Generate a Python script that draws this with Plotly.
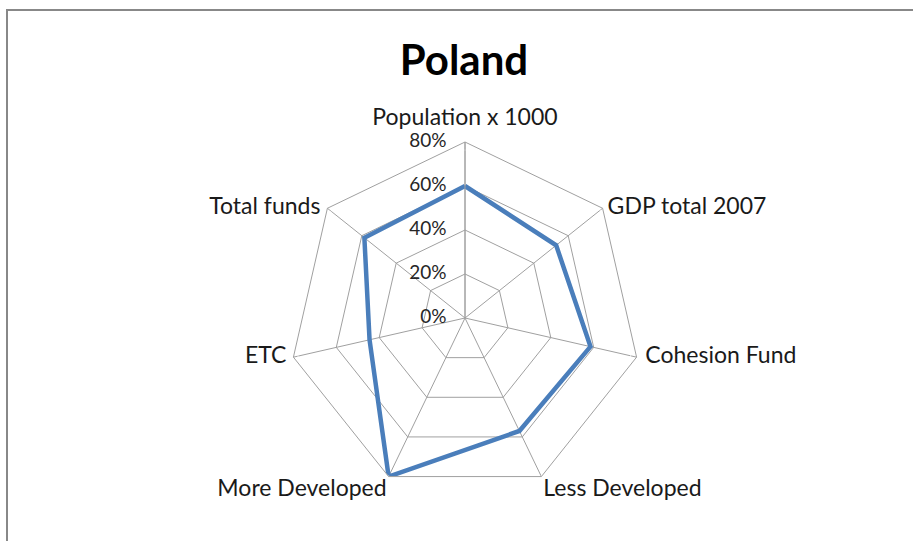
import plotly.graph_objects as go

categories = ["Population x 1000", "GDP total 2007", "Cohesion Fund",
              "Less Developed", "More Developed", "ETC", "Total funds"]
values = [0.60, 0.53, 0.585, 0.57, 0.80, 0.445, 0.585]
radial_ticks = [0, 0.2, 0.4, 0.6, 0.8]
radial_labels = ["0%", "20%", "40%", "60%", "80%"]
title_text = "Poland"

# label placement styles (one per category)
cat_label_pos = ["top center", "middle right", "middle right", "bottom right",
                 "bottom left", "middle left", "middle left"]
cat_label_pad = [16.4, 6.4, 12.4, 1.6, 1.6, 9.6, 9.6]

W, H = 913, 541
cx, cy, R = 465, 318, 176
R_MAX = 0.8

fig = go.Figure()
fig.add_trace(go.Scatterpolar(
    r=values + values[:1],
    theta=categories + categories[:1],
    mode="lines",
    line=dict(color="#4A7EBB", width=4.5),
    showlegend=False,
    hoverinfo="skip",
))
# radial tick labels, placed on the first spoke through the polar scale
fig.add_trace(go.Scatterpolar(
    r=[max(t, 1e-6) for t in radial_ticks],
    theta=[categories[0]] * len(radial_ticks),
    mode="markers+text",
    text=radial_labels,
    textposition="middle left",
    textfont=dict(size=19, color="#262626"),
    marker=dict(size=28, color="rgba(0,0,0,0)"),
    showlegend=False,
    hoverinfo="skip",
    cliponaxis=False,
))
# category labels at the outer ring
fig.add_trace(go.Scatterpolar(
    r=[R_MAX] * len(categories),
    theta=categories,
    mode="markers+text",
    text=categories,
    textposition=cat_label_pos,
    textfont=dict(size=23, color="#1a1a1a"),
    marker=dict(size=cat_label_pad, color="rgba(0,0,0,0)"),
    showlegend=False,
    hoverinfo="skip",
    cliponaxis=False,
))

fig.update_layout(
    width=W, height=H,
    margin=dict(l=0, r=0, t=0, b=0),
    paper_bgcolor="white",
    plot_bgcolor="white",
    font=dict(family="Lato, Open Sans, sans-serif", color="#1a1a1a"),
    title=dict(text="<b>" + title_text + "</b>", x=464 / W, xanchor="center",
               y=1 - 60 / H, yanchor="middle",
               font=dict(size=42, color="black", family="Lato, sans-serif")),
    polar=dict(
        domain=dict(x=[(cx - R) / W, (cx + R) / W],
                    y=[(H - cy - R) / H, (H - cy + R) / H]),
        bgcolor="white",
        gridshape="linear",
        angularaxis=dict(
            direction="clockwise", rotation=90,
            showline=True, linecolor="#A0A0A0", linewidth=1,
            gridcolor="#A0A0A0", gridwidth=1,
            ticks="", showticklabels=False,
        ),
        radialaxis=dict(
            range=[0, R_MAX], angle=90,
            tickvals=radial_ticks, showticklabels=False,
            showline=True, linecolor="#A0A0A0", linewidth=1,
            gridcolor="#A0A0A0", gridwidth=1,
            ticks="",
        ),
    ),
    shapes=[dict(type="rect", xref="paper", yref="paper",
                 x0=7 / W, x1=1.02, y0=-0.02, y1=1 - 10 / H,
                 line=dict(color="#888888", width=2))],
)

fig.write_html("out.html",
               config={"displayModeBar": False},
               post_script="document.body.style.margin='0';"
                           "document.body.style.overflow='hidden';")
